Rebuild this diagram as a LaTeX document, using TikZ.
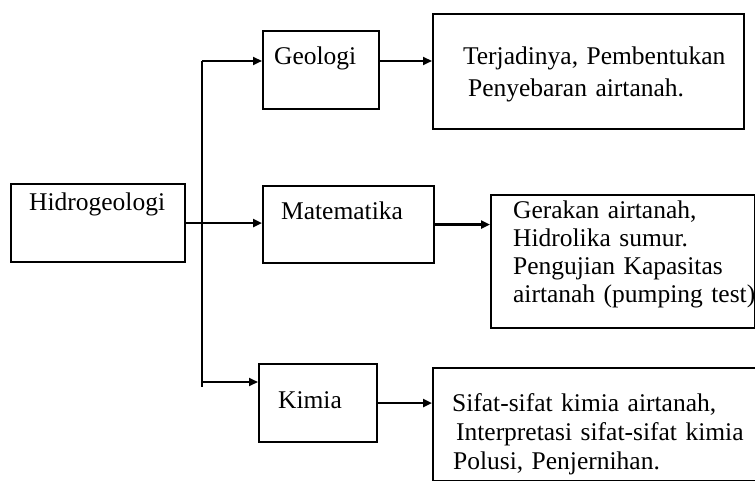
\documentclass[tikz,border=0pt]{standalone}
\usepackage{fontspec}
\setmainfont{Liberation Serif}
\usetikzlibrary{arrows.meta}
\newcommand{\lpad}[1]{\hspace*{#1}}
\tikzset{
	box/.style={draw, line width=2.2pt, anchor=north west, inner xsep=0pt, inner ysep=0pt, align=left, font=\fontsize{25.5}{28}\selectfont},
	arr/.style={line width=2.2pt, -{Triangle[length=9pt,width=8pt]}},
	trunk/.style={line width=2.2pt}
}
\begin{document}
\begin{tikzpicture}[x=1pt, y=-1pt]
		\useasboundingbox (0,0) rectangle (755,481);
		\clip (0,0) rectangle (755,481);
		% main and branch boxes
		\node[box, text width=174pt, text height=26pt, text depth=52pt] (hidro) at (10,183) {\lpad{18pt}Hidrogeologi};
		\node[box, text width=116pt, text height=33pt, text depth=45pt] (geo) at (262,30) {\lpad{11pt}Geologi};
		\node[box, text width=171pt, text height=33pt, text depth=44pt] (mat) at (262,185) {\lpad{18pt}Matematika};
		\node[box, text width=118pt, text height=44pt, text depth=34pt] (kim) at (258,363) {\lpad{19pt}Kimia};
		% description boxes
		\node[box, text width=311pt, text height=50pt, text depth=65pt, font=\fontsize{25.5}{32}\selectfont] (geodesc) at (432,13) {\lpad{30pt}Terjadinya, Pembentukan\\\lpad{35pt}Penyebaran airtanah.};
		\node[box, text width=264pt, text height=23pt, text depth=110pt] (matdesc) at (490,194) {\lpad{22pt}Gerakan airtanah,\\\lpad{22pt}Hidrolika sumur.\\\lpad{22pt}Pengujian Kapasitas\\\mbox{\lpad{22pt}airtanah (pumping test)}};
		\node[box, text width=328pt, text height=43pt, text depth=70pt, font=\fontsize{25.5}{29}\selectfont] (kimdesc) at (432,367) {\lpad{19pt}Sifat-sifat kimia airtanah,\\\lpad{23pt}Interpretasi sifat-sifat kimia\\\lpad{20pt}Polusi, Penjernihan.};
		% connectors
		\coordinate (top) at (202,61);
		\coordinate (bot) at (202,387);
		\coordinate (kimbr) at (202,382);
		\draw[trunk] (top) -- (bot);
		\draw[arr] (top) -- (top -| geo.west);
		\draw[arr] (hidro.east) -- (hidro.east -| mat.west);
		\draw[arr] (kimbr) -- (kimbr -| kim.west);
		\draw[arr] (geo.east |- top) -- (top -| geodesc.west);
		\draw[arr] (mat.east) -- (mat.east -| matdesc.west);
		\draw[arr] (kim.east) -- (kim.east -| kimdesc.west);
	\end{tikzpicture}
\end{document}
